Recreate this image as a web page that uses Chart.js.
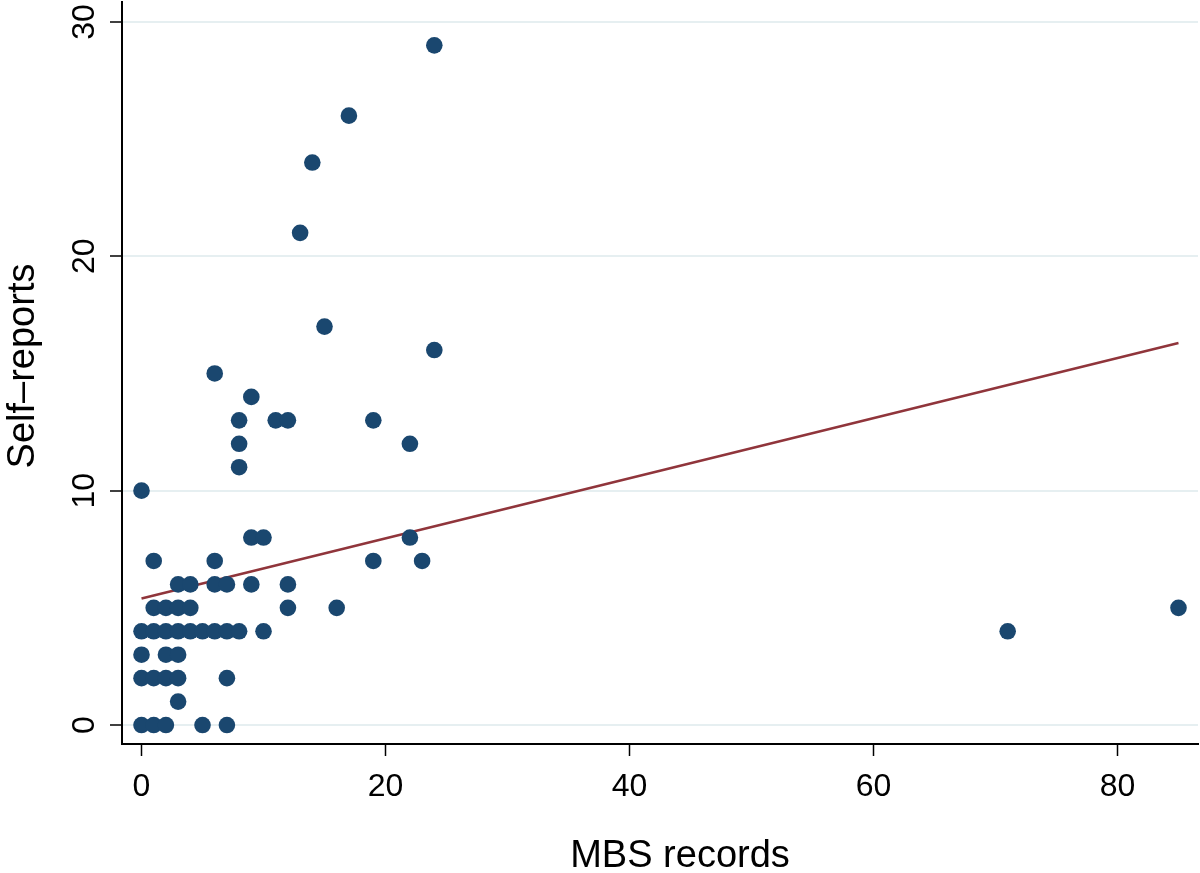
<!DOCTYPE html>
<html>
<head>
<meta charset="utf-8">
<script src="https://cdn.jsdelivr.net/npm/chart.js@4.4.0/dist/chart.umd.min.js"></script>
<style>
  html, body { margin: 0; padding: 0; background: #fff; }
  #wrap { width: 1200px; height: 873px; }
</style>
</head>
<body>
<div id="wrap"><canvas id="scatterChart"></canvas></div>
<script>
// 관측값 (MBS records, Self-reports)
const mbsRecords = [
    0, 1, 2, 5, 7,
    3,
    0, 1, 2, 3, 7,
    0, 2, 3,
    0, 1, 2, 3, 4, 5, 6, 7, 8, 10, 71,
    1, 2, 3, 4, 12, 16, 85,
    3, 4, 6, 7, 9, 12,
    1, 6, 19, 23,
    9, 10, 22,
    0, 8, 8, 22, 8, 11, 12, 19, 9, 6, 24, 15, 13, 14, 17, 24
];
const selfReports = [
    0, 0, 0, 0, 0,
    1,
    2, 2, 2, 2, 2,
    3, 3, 3,
    4, 4, 4, 4, 4, 4, 4, 4, 4, 4, 4,
    5, 5, 5, 5, 5, 5, 5,
    6, 6, 6, 6, 6, 6,
    7, 7, 7, 7,
    8, 8, 8,
    10, 11, 12, 12, 13, 13, 13, 13, 14, 15, 16, 17, 21, 24, 26, 29
];
// 회귀선 양끝
const fitX = [0, 85];
const fitY = [5.4, 16.3];
const xTicks = [0, 20, 40, 60, 80];
const yTicks = [0, 10, 20, 30];
const xTitle = 'MBS records';
const yTitle = 'Self–reports';

const font = "'Liberation Sans', Arial, Helvetica, sans-serif";

// 세로축 눈금 글자와 축 제목 (Stata 스타일, 세로로 회전)
const axisText = {
    id: 'axisText',
    afterDraw(chart) {
        const c = chart.ctx;
        const y = chart.scales.y;
        c.save();
        c.fillStyle = '#000';
        c.font = '32px ' + font;
        c.textAlign = 'center';
        c.textBaseline = 'alphabetic';
        yTicks.forEach(v => {
            const py = y.getPixelForValue(v);
            c.save();
            c.translate(94, py);
            c.rotate(-Math.PI / 2);
            c.fillText(String(v), 0, 0);
            c.restore();
        });
        c.font = '38px ' + font;
        c.save();
        c.translate(34, 366);
        c.rotate(-Math.PI / 2);
        c.fillText(yTitle, 0, 0);
        c.restore();
        c.fillText(xTitle, 680, 867);
        c.restore();
    }
};

document.addEventListener('DOMContentLoaded', function() {
    const ctx = document.getElementById('scatterChart');
    new Chart(ctx, {
        type: 'scatter',
        data: {
            datasets: [{
                label: 'Self-reports',
                data: mbsRecords.map((x, i) => ({ x: x, y: selfReports[i] })),
                backgroundColor: '#1a476f',
                borderWidth: 0,
                pointRadius: 8.3,
                pointHoverRadius: 8.3,
                clip: false
            }, {
                type: 'line',
                label: 'Fitted values',
                data: fitX.map((x, i) => ({ x: x, y: fitY[i] })),
                borderColor: '#90353b',
                borderWidth: 2.5,
                pointRadius: 0,
                fill: false,
                tension: 0
            }]
        },
        options: {
            responsive: true,
            maintainAspectRatio: false,
            animation: false,
            layout: { autoPadding: false, padding: { top: 2, right: 2, left: 0, bottom: 0 } },
            plugins: {
                legend: { display: false },
                tooltip: { enabled: false }
            },
            scales: {
                x: {
                    type: 'linear',
                    min: -1.6,
                    max: 86.6,
                    afterBuildTicks: function(scale) {
                        scale.ticks = xTicks.map(v => ({ value: v }));
                    },
                    afterFit: function(scale) { scale.height = 129; },
                    grid: {
                        color: 'rgba(0,0,0,0)',
                        tickColor: '#000',
                        tickLength: 12,
                        tickWidth: 1.5
                    },
                    border: { color: '#000', width: 2 },
                    ticks: {
                        color: '#000',
                        padding: 12,
                        maxRotation: 0,
                        font: { family: font, size: 32 }
                    }
                },
                y: {
                    type: 'linear',
                    min: -0.81,
                    max: 30.85,
                    afterBuildTicks: function(scale) {
                        scale.ticks = yTicks.map(v => ({ value: v }));
                    },
                    afterFit: function(scale) { scale.width = 122; },
                    grid: {
                        color: '#e6eff1',
                        lineWidth: 2,
                        tickColor: '#000',
                        tickLength: 12,
                        tickWidth: 1.5
                    },
                    border: { color: '#000', width: 2 },
                    ticks: { display: false }
                }
            }
        },
        plugins: [axisText]
    });
});
</script>
</body>
</html>
